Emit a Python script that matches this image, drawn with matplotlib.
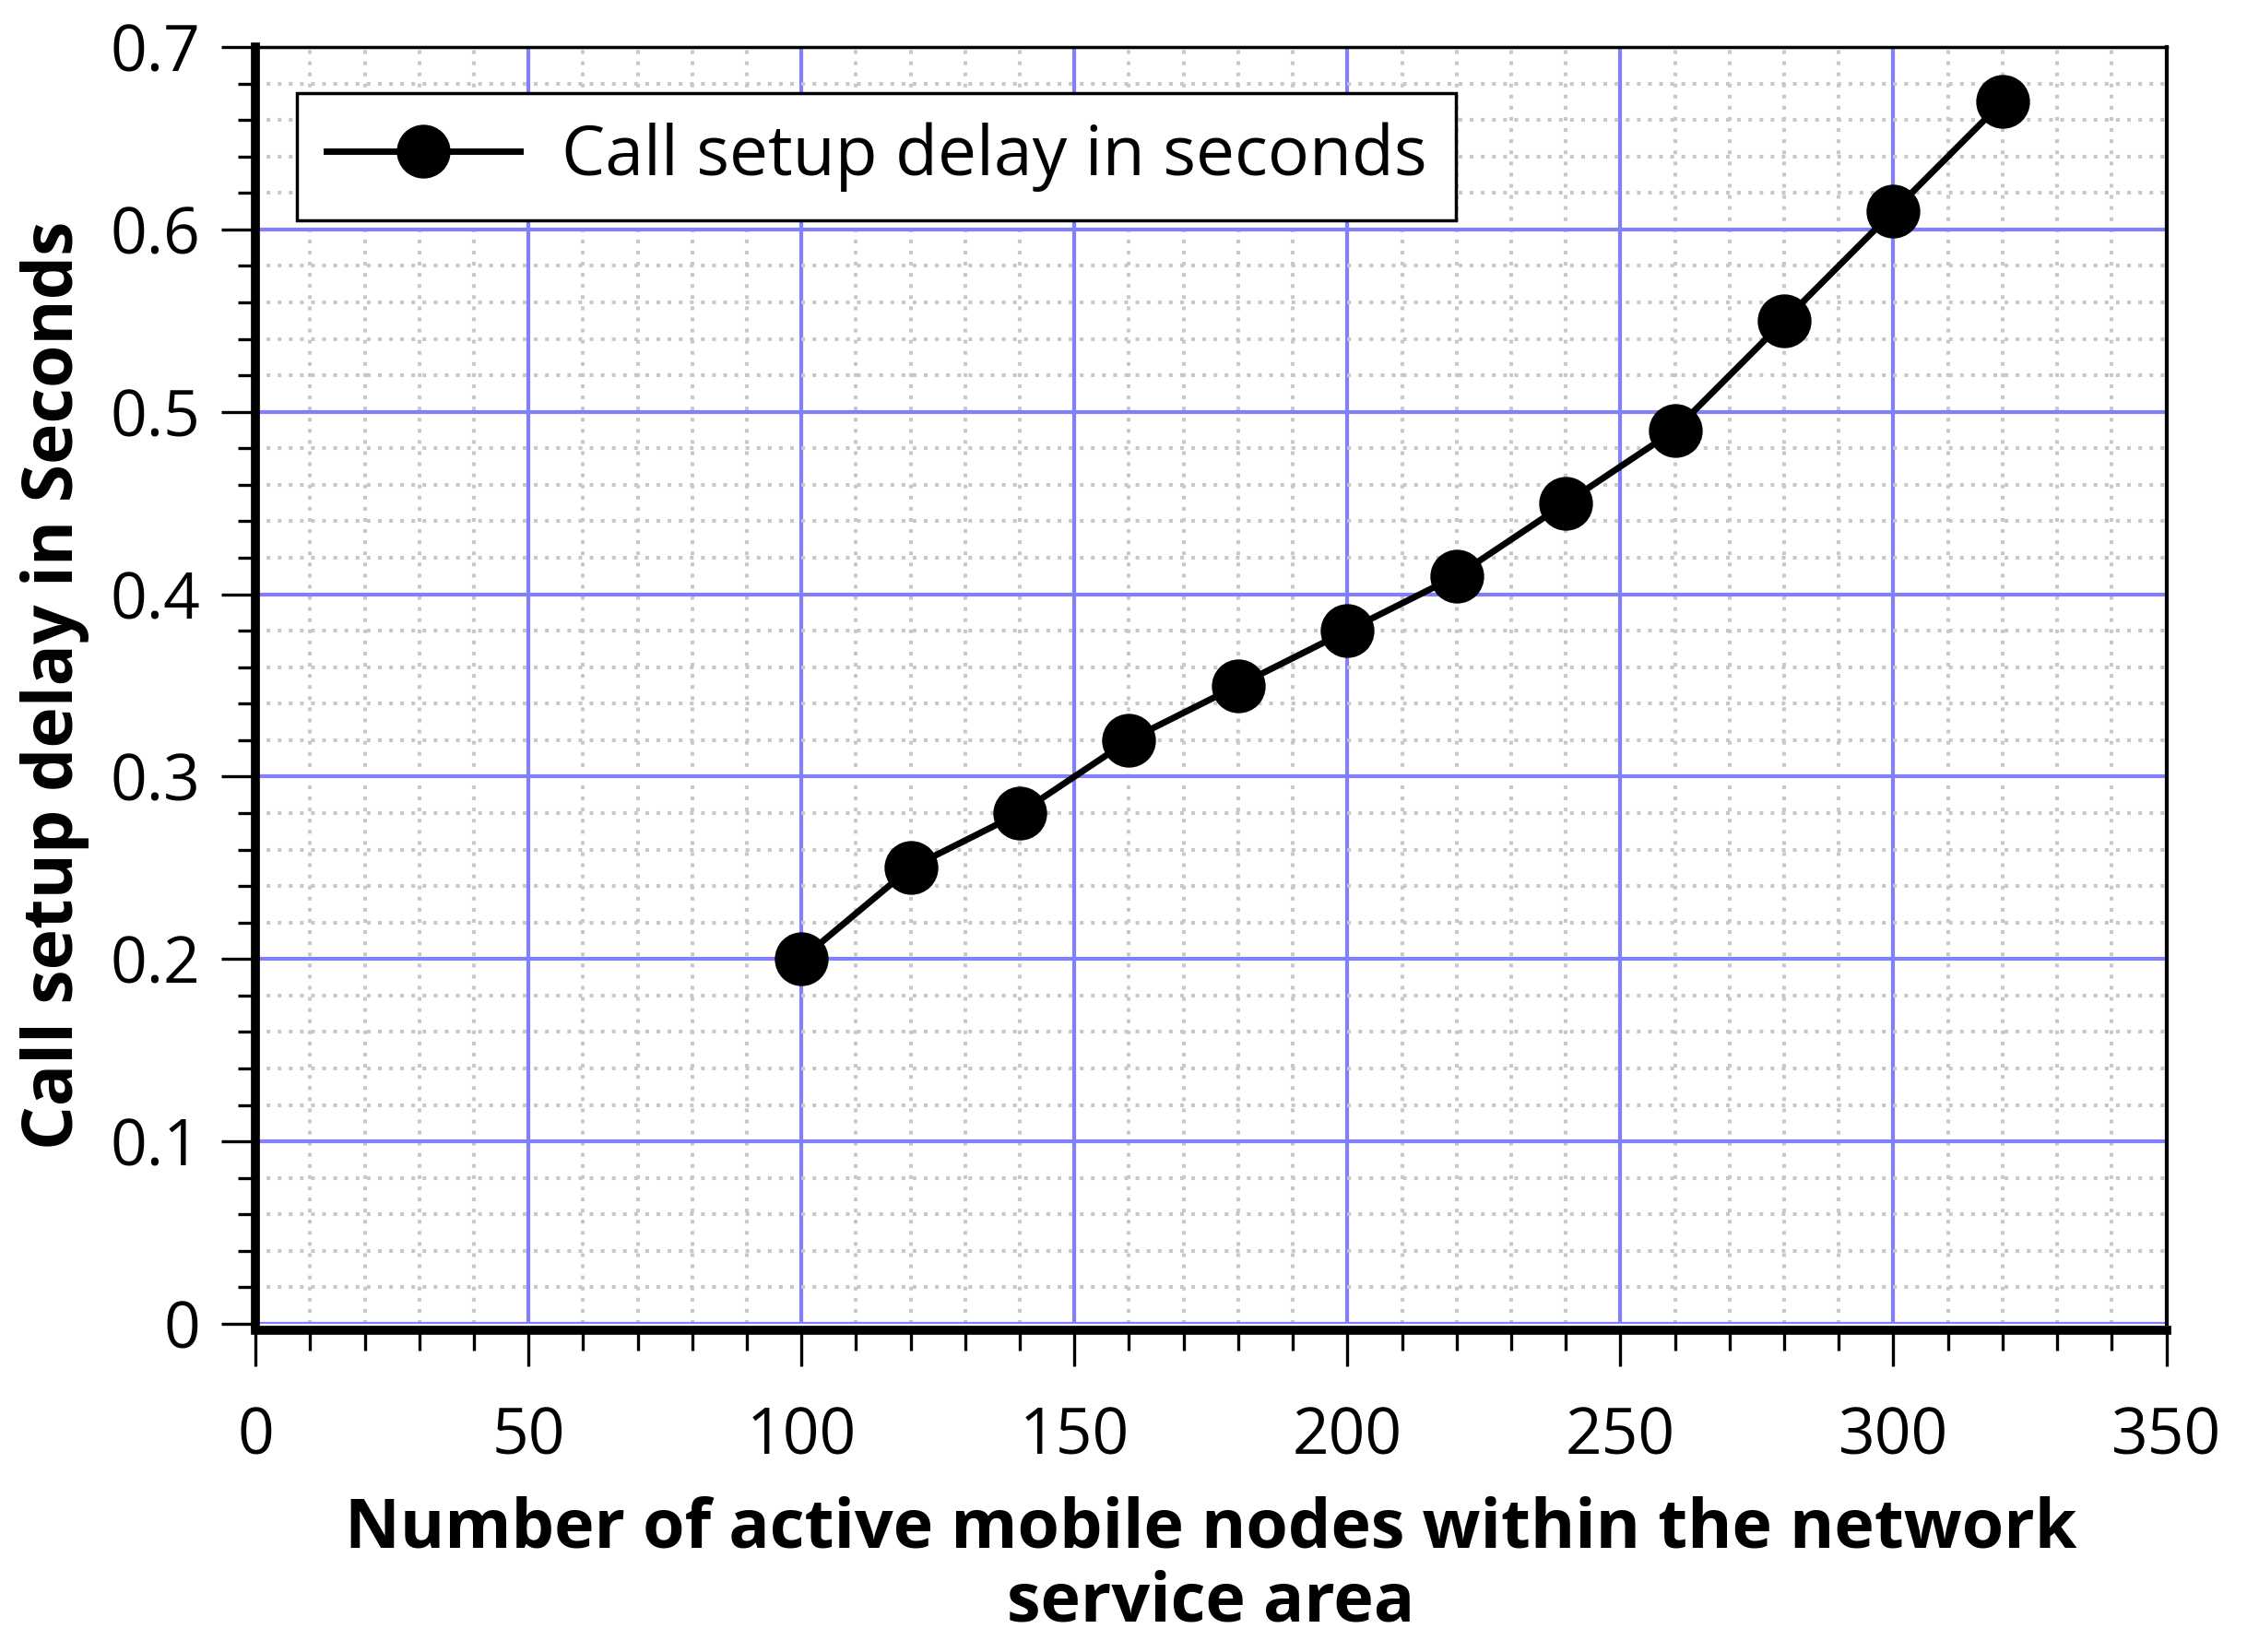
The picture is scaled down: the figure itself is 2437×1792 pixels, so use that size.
import matplotlib
matplotlib.use("Agg")
import matplotlib.pyplot as plt
from matplotlib.ticker import MultipleLocator

plt.rcParams["font.family"] = ["Open Sans", "DejaVu Sans"]

nodes = [100, 120, 140, 160, 180, 200, 220, 240, 260, 280, 300, 320]
delay = [0.20, 0.25, 0.28, 0.32, 0.35, 0.38, 0.41, 0.45, 0.49, 0.55, 0.61, 0.67]

fig = plt.figure(figsize=(24.37, 17.92), dpi=100)
ax = fig.add_axes([0.1137, 0.1987, 0.8504, 0.7728])

ax.plot(nodes, delay, color="black", lw=5, marker="o", ms=41,
        label="Call setup delay in seconds", zorder=5)

ax.set_xlim(0, 350)
ax.set_ylim(0, 0.7)
ax.xaxis.set_major_locator(MultipleLocator(50))
ax.xaxis.set_minor_locator(MultipleLocator(10))
ax.yaxis.set_major_locator(MultipleLocator(0.1))
ax.yaxis.set_minor_locator(MultipleLocator(0.02))
ax.yaxis.set_major_formatter(plt.FuncFormatter(lambda v, p: "0" if v == 0 else f"{v:.1f}"))

ax.grid(which="major", color="#8080ff", lw=3, zorder=1)
ax.grid(which="minor", color="#c8c8c8", lw=2.9, linestyle=(0, (1, 2)), zorder=0)
ax.set_axisbelow(True)

ax.tick_params(axis="y", which="major", length=27, width=2.4, labelsize=50, pad=16)
ax.tick_params(axis="y", which="minor", length=14, width=2.4)
ax.tick_params(axis="x", which="major", length=28, width=2.4, labelsize=50, pad=31)
ax.tick_params(axis="x", which="minor", length=16, width=2.4)

ax.spines["left"].set_linewidth(7)
ax.spines["bottom"].set_linewidth(7)
ax.spines["bottom"].set_position(("outward", 5))
ax.spines["top"].set_linewidth(2.5)
ax.spines["right"].set_linewidth(3)

ax.set_xlabel("Number of active mobile nodes within the network\nservice area",
              fontsize=53, fontweight="bold", linespacing=1.1, labelpad=20)
ax.set_ylabel("Call setup delay in Seconds", fontsize=54, fontweight="bold", labelpad=16)

leg = ax.legend(loc="upper left", bbox_to_anchor=(0.0217, 0.964), borderaxespad=0,
                fontsize=54, handlelength=2.8, handletextpad=0.6, borderpad=0.42,
                fancybox=False, framealpha=1, edgecolor="black")
leg.get_frame().set_linewidth(2.5)

fig.savefig("out.png", dpi=100)
